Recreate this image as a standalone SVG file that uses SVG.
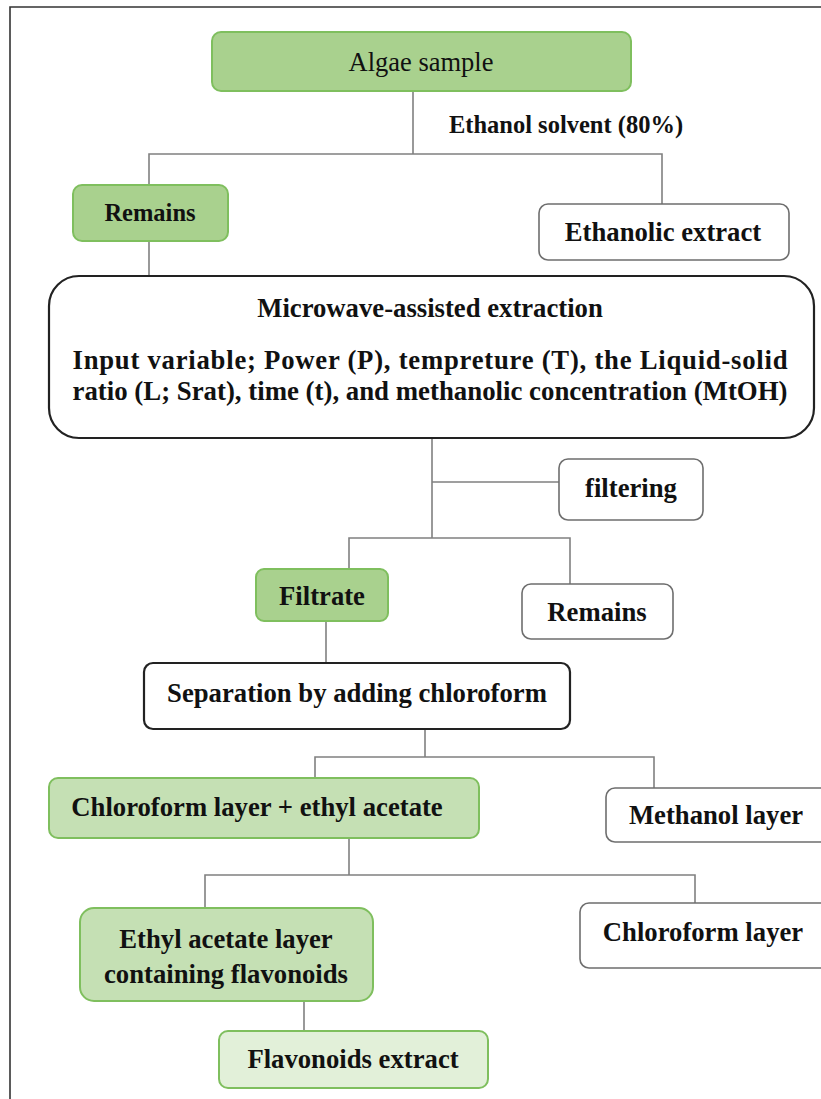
<svg xmlns="http://www.w3.org/2000/svg" width="821" height="1099" viewBox="0 0 821 1099">
<style>
text{font-family:"Liberation Serif","Times New Roman",serif;font-weight:bold;font-size:26.7px;fill:#111;text-anchor:middle}
.g1{fill:#a9d18e;stroke:#7fbf5e;stroke-width:2}
.g2{fill:#c5e0b4;stroke:#7fbf5e;stroke-width:2}
.g3{fill:#e2f0d9;stroke:#7fbf5e;stroke-width:2}
.w{fill:#fff;stroke:#6e6e6e;stroke-width:1.6}
.k{fill:#fff;stroke:#222;stroke-width:2.2}
#connectors path{fill:none;stroke:#808080;stroke-width:1.6}
</style>
<rect x="0" y="0" width="821" height="1099" fill="#fff"/>
<path d="M10 1099 V7 H821" fill="none" stroke="#333" stroke-width="1.6"/>
<g id="connectors">
<path d="M413 92 V154 M149 184 V154 H662 V204"/>
<path d="M149 242 V276"/>
<path d="M432 439 V538 M432 482 H559 M349 569 V538 H570 V584"/>
<path d="M326 621 V663"/>
<path d="M425 729 V757 M315 778 V757 H654 V788"/>
<path d="M349 838 V875 M205 908 V875 H695 V903"/>
<path d="M304 1001 V1031"/>
</g>
<g id="algae"><rect class="g1" x="212" y="32" width="419" height="59" rx="9"/><text x="421" y="71" style="font-weight:normal;font-size:26.5px">Algae sample</text></g>
<g id="label-ethanol"><text x="566" y="133" style="font-size:24.5px">Ethanol solvent (80%)</text></g>
<g id="remains1"><rect class="g1" x="73" y="185" width="155" height="56" rx="9"/><text x="150" y="221" style="font-size:24.5px">Remains</text></g>
<g id="ethanolic"><rect class="w" x="539" y="204" width="250" height="56" rx="9"/><text x="663" y="241">Ethanolic extract</text></g>
<g id="microwave"><rect class="k" x="49" y="276" width="765" height="162" rx="30"/>
<text x="430" y="317">Microwave-assisted extraction</text>
<text x="430" y="369" textLength="715" lengthAdjust="spacing">Input variable; Power (P), tempreture (T), the Liquid-solid</text>
<text x="430" y="400" textLength="715" lengthAdjust="spacingAndGlyphs">ratio (L; Srat), time (t), and methanolic concentration (MtOH)</text></g>
<g id="filtering"><rect class="w" x="559" y="459" width="144" height="61" rx="9"/><text x="631" y="497">filtering</text></g>
<g id="filtrate"><rect class="g1" x="256" y="569" width="132" height="52" rx="8"/><text x="322" y="605">Filtrate</text></g>
<g id="remains2"><rect class="w" x="522" y="584" width="151" height="55" rx="9"/><text x="597" y="621">Remains</text></g>
<g id="separation"><rect class="k" x="144" y="663" width="426" height="66" rx="9"/><text x="357" y="702">Separation by adding chloroform</text></g>
<g id="chloro-ea"><rect class="g2" x="49" y="778" width="430" height="60" rx="9"/><text x="257" y="816">Chloroform layer + ethyl acetate</text></g>
<g id="methanol"><rect class="w" x="606" y="788" width="230" height="54" rx="9"/><text x="716" y="824">Methanol layer</text></g>
<g id="ea-layer"><rect class="g2" x="80" y="908" width="293" height="93" rx="14"/><text x="226" y="948">Ethyl acetate layer</text><text x="226" y="983">containing flavonoids</text></g>
<g id="chloro-layer"><rect class="w" x="580" y="903" width="256" height="65" rx="9"/><text x="703" y="941">Chloroform layer</text></g>
<g id="flavonoids"><rect class="g3" x="219" y="1031" width="269" height="57" rx="9"/><text x="353" y="1068">Flavonoids extract</text></g>
</svg>
